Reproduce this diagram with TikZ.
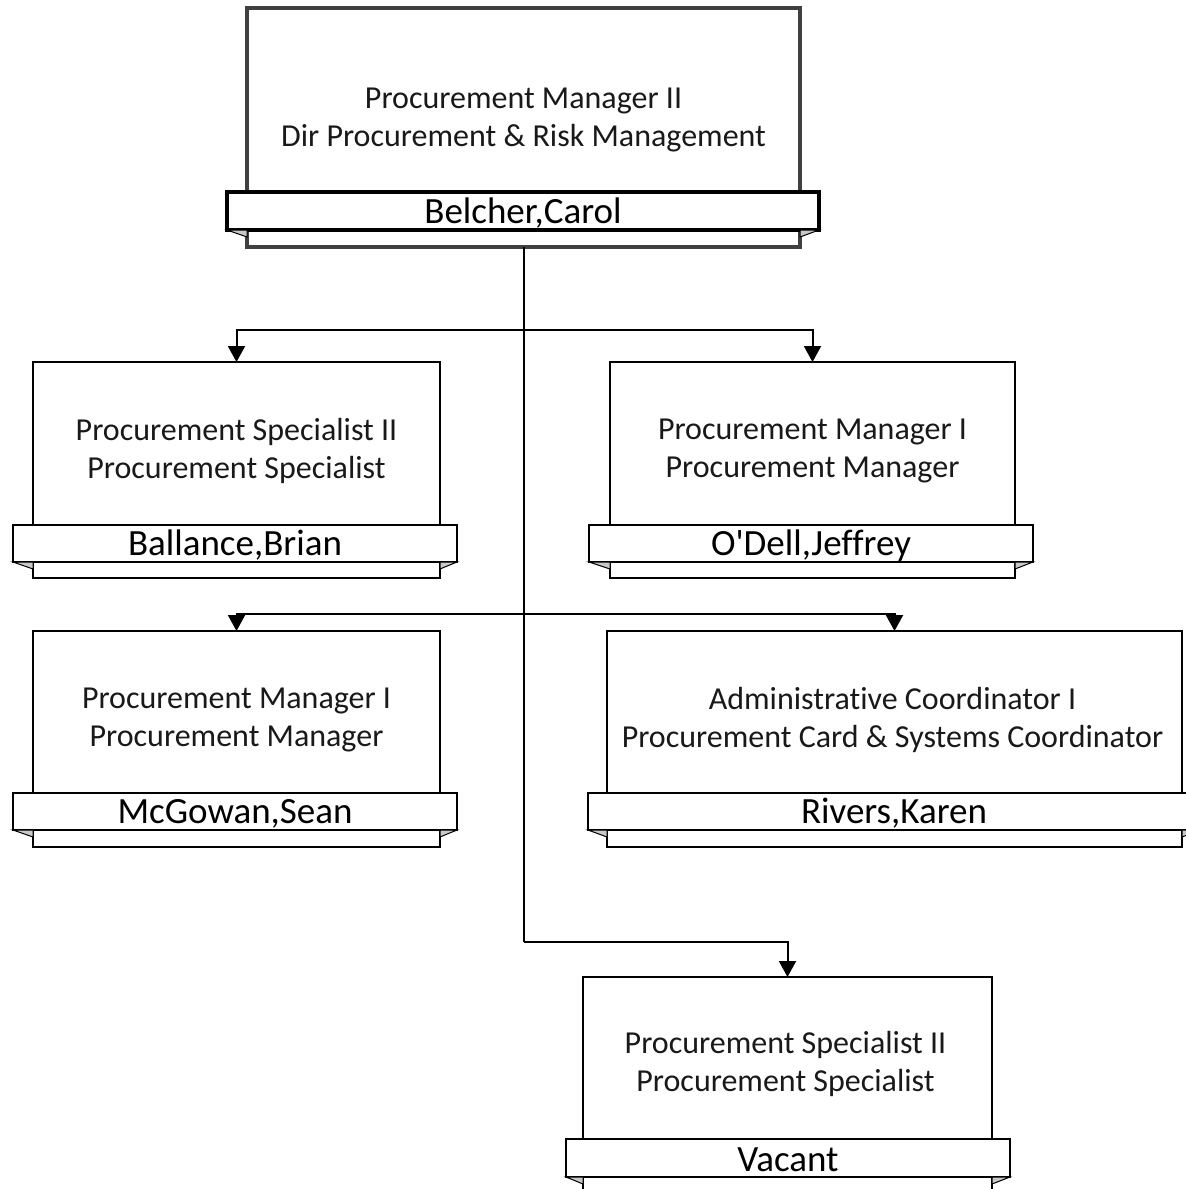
\documentclass[tikz,border=0pt]{standalone}
\usepackage{fontspec}
\setmainfont{Carlito}[Ligatures={TeXOff,NoCommon}]
\usetikzlibrary{arrows.meta,fit}
\definecolor{topgray}{HTML}{404040}
\definecolor{foldgray}{HTML}{C8C8C8}
\newcommand\orgunit[9]{%
  \node[body, fit={(#2,#3) (#4,#5)}] (#1) {};
  \node[banner, fit={(#6,#7) (#8,#9)}] (#1n) {};
  \filldraw[foldfill] (#6,#9) -- (#2,#9) -- (#2,#9+7) -- cycle;
  \filldraw[foldfill] (#8,#9) -- (#4,#9) -- (#4,#9+7) -- cycle;
}
\begin{document}
\begin{tikzpicture}[x=1pt,y=-1pt,
  body/.style={draw=black, line width=1.5pt, fill=white, inner sep=0pt, outer sep=0pt},
  banner/.style={draw=black, line width=1.5pt, fill=white, inner sep=0pt, outer sep=0pt},
  foldfill/.style={fill=foldgray, draw=black, line width=1pt},
  title/.style={font=\fontsize{32}{38}\selectfont, align=center, text=black!90},
  pname/.style={font=\fontsize{37}{40}\selectfont, text=black},
  wire/.style={draw=black, line width=2pt},
  conn/.style={wire, -{Triangle[width=17pt,length=16pt]}},
]
\useasboundingbox (0,0) rectangle (1186,1189);
\clip (0,0) rectangle (1186,1189);

% top unit
\begin{scope}[body/.append style={draw=topgray, line width=4pt},
              banner/.append style={line width=4pt}]
\orgunit{top}{247}{8}{800}{247}{227}{192}{819}{230}
\end{scope}
\node[title] (topt) at (523.5,120) {Procurement Manager II\\Dir Procurement \& Risk Management};
\node[pname] (topname) at ([yshift=-2pt]topn.center) {Belcher,Carol};

% level units
\orgunit{a}{33}{362}{440}{578}{13}{525}{457}{562}
\node[title] (at) at (236.5,451) {Procurement Specialist II\\Procurement Specialist};
\node[pname] (aname) at ([yshift=-2pt]an.center) {Ballance,Brian};

\orgunit{b}{610}{362}{1015}{578}{589}{525}{1033}{562}
\node[title] (bt) at (812.5,451) {Procurement Manager I\\Procurement Manager};
\node[pname] (bname) at ([yshift=-2pt]bn.center) {O'Dell,Jeffrey};

\orgunit{c}{33}{631}{440}{847}{13}{793}{457}{830}
\node[title] (ct) at (236.5,720) {Procurement Manager I\\Procurement Manager};
\node[pname] (cname) at ([yshift=-2pt]cn.center) {McGowan,Sean};

\orgunit{d}{607}{631}{1182}{847}{588}{793}{1200}{830}
\node[title] (dt) at (892.5,720) {Administrative Coordinator I\\Procurement Card \& Systems Coordinator};
\node[pname] (dname) at (894,813.5) {Rivers,Karen};

\orgunit{e}{583}{977}{992}{1200}{566}{1139}{1010}{1177}
\node[title] (et) at (785.5,1064) {Procurement Specialist II\\Procurement Specialist};
\node[pname] (ename) at ([yshift=-2pt]en.center) {Vacant};

% connectors
\coordinate (y1) at (0,330);
\coordinate (y2) at (0,614);
\coordinate (y3) at (0,942);
\draw[wire] (top.south) -- (top.south |- y3);
\draw[conn] (top.south |- y1) -| (a.north);
\draw[conn] (top.south |- y1) -| (b.north);
\draw[conn] (top.south |- y2) -| (c.north);
\draw[conn] (top.south |- y2) -| (d.north);
\draw[conn] (top.south |- y3) -| (e.north);
\end{tikzpicture}
\end{document}
